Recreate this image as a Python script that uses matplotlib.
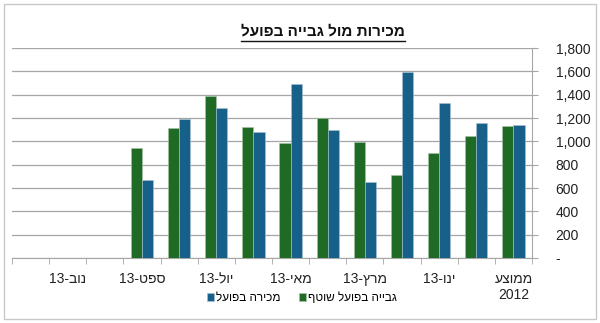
import numpy as np
import matplotlib
matplotlib.use("Agg")
import matplotlib.pyplot as plt
from matplotlib.ticker import FuncFormatter, FixedLocator
from matplotlib.patches import Rectangle
from matplotlib.lines import Line2D

plt.rcParams['font.family'] = ['Liberation Sans', 'DejaVu Sans']

# matplotlib has no bidi support, so Hebrew strings are reversed for display
def heb(s):
    return s[::-1]

# categories, right to left as in the original chart
categories = ['ממוצע\n2012', 'דצמ-12', 'ינו-13', 'פבר-13', 'מרץ-13', 'אפר-13', 'מאי-13',
              'יונ-13', 'יול-13', 'אוג-13', 'ספט-13', 'אוק-13', 'נוב-13', 'דצמ-13']
collected = [1130, 1045, 900, 715, 995, 1200, 990, 1125, 1385, 1115, 945, np.nan, np.nan, np.nan]
sales = [1140, 1160, 1330, 1595, 655, 1100, 1495, 1080, 1290, 1195, 670, np.nan, np.nan, np.nan]
y_ticks = [0, 200, 400, 600, 800, 1000, 1200, 1400, 1600, 1800]

title = 'מכירות מול גבייה בפועל'
label_collected = 'גבייה בפועל שוטף'
label_sales = 'מכירה בפועל'

green = '#1f6b26'
blue = '#17608a'
grid_c = '#a6a6a6'

def fix_label(s):
    parts = s.split('\n')
    out = []
    for p in parts:
        if '-' in p:
            m, y = p.split('-')
            out.append(y + '-' + heb(m))
        else:
            out.append(heb(p) if not p.isdigit() else p)
    return '\n'.join(out)

fig = plt.figure(figsize=(6.0, 3.23), dpi=100)
ax = fig.add_axes([12/600, 1 - 258/323, 520/600, 210/323])

x = np.arange(len(categories))
w = 0.3
ax.bar(x + w/2, collected, w, color=green, edgecolor='#a9c4a9', linewidth=0.4,
       label=heb(label_collected), zorder=3)
ax.bar(x - w/2, sales, w, color=blue, edgecolor='#a8c4d4', linewidth=0.4,
       label=heb(label_sales), zorder=3)

ax.set_xlim(len(categories) - 0.5, -0.5)
ax.set_ylim(0, 1800)

ax.yaxis.tick_right()
ax.set_yticks(y_ticks)
ax.yaxis.set_major_formatter(FuncFormatter(lambda v, p: '-' if v == 0 else '{:,}'.format(int(v))))
ax.tick_params(axis='y', length=4, color=grid_c, labelsize=10, labelcolor='#222222')
for t in ax.get_yticklabels():
    t.set_horizontalalignment('left')
ax.tick_params(axis='y', pad=13)
ax.grid(axis='y', color=grid_c, linewidth=0.9, zorder=0)

# x labels on every other category, tick marks on category boundaries
shown = list(range(0, len(categories), 2))
ax.xaxis.set_major_locator(FixedLocator(shown))
ax.set_xticklabels([fix_label(categories[i]) for i in shown], fontsize=10, color='#222222',
                   linespacing=1.2, va='top')
ax.xaxis.set_minor_locator(FixedLocator(np.arange(-0.5, len(categories), 1.0)))
ax.tick_params(axis='x', which='major', length=0, pad=10)
ax.tick_params(axis='x', which='minor', length=4, color=grid_c)

for s in ['top', 'left']:
    ax.spines[s].set_visible(False)
ax.spines['bottom'].set_color(grid_c)
ax.spines['right'].set_color(grid_c)

handles, labels = ax.get_legend_handles_labels()
leg = fig.legend(handles[::-1], labels[::-1], loc='center', bbox_to_anchor=(302/600, 1 - 298/323),
                 ncol=2, frameon=False, markerfirst=True, fontsize=8.5, handlelength=0.6,
                 handleheight=0.6, handletextpad=0.2, columnspacing=1.5)

t = fig.text(323/600, 1 - 31/323, heb(title), ha='center', va='center', fontsize=11,
             fontweight='bold', color='#111111')

# chart border
fig.patches.append(Rectangle((4/600, 1 - 319/323), 592/600, 315/323, transform=fig.transFigure,
                             fill=False, edgecolor='#c8c8c8', linewidth=1.0))

# underline for the title
fig.canvas.draw()
bb = t.get_window_extent().transformed(fig.transFigure.inverted())
fig.lines.append(Line2D([bb.x0, bb.x1], [bb.y0 - 0.008, bb.y0 - 0.008], transform=fig.transFigure,
                        color='#111111', linewidth=1.0))

fig.savefig('out.png', dpi=100)
